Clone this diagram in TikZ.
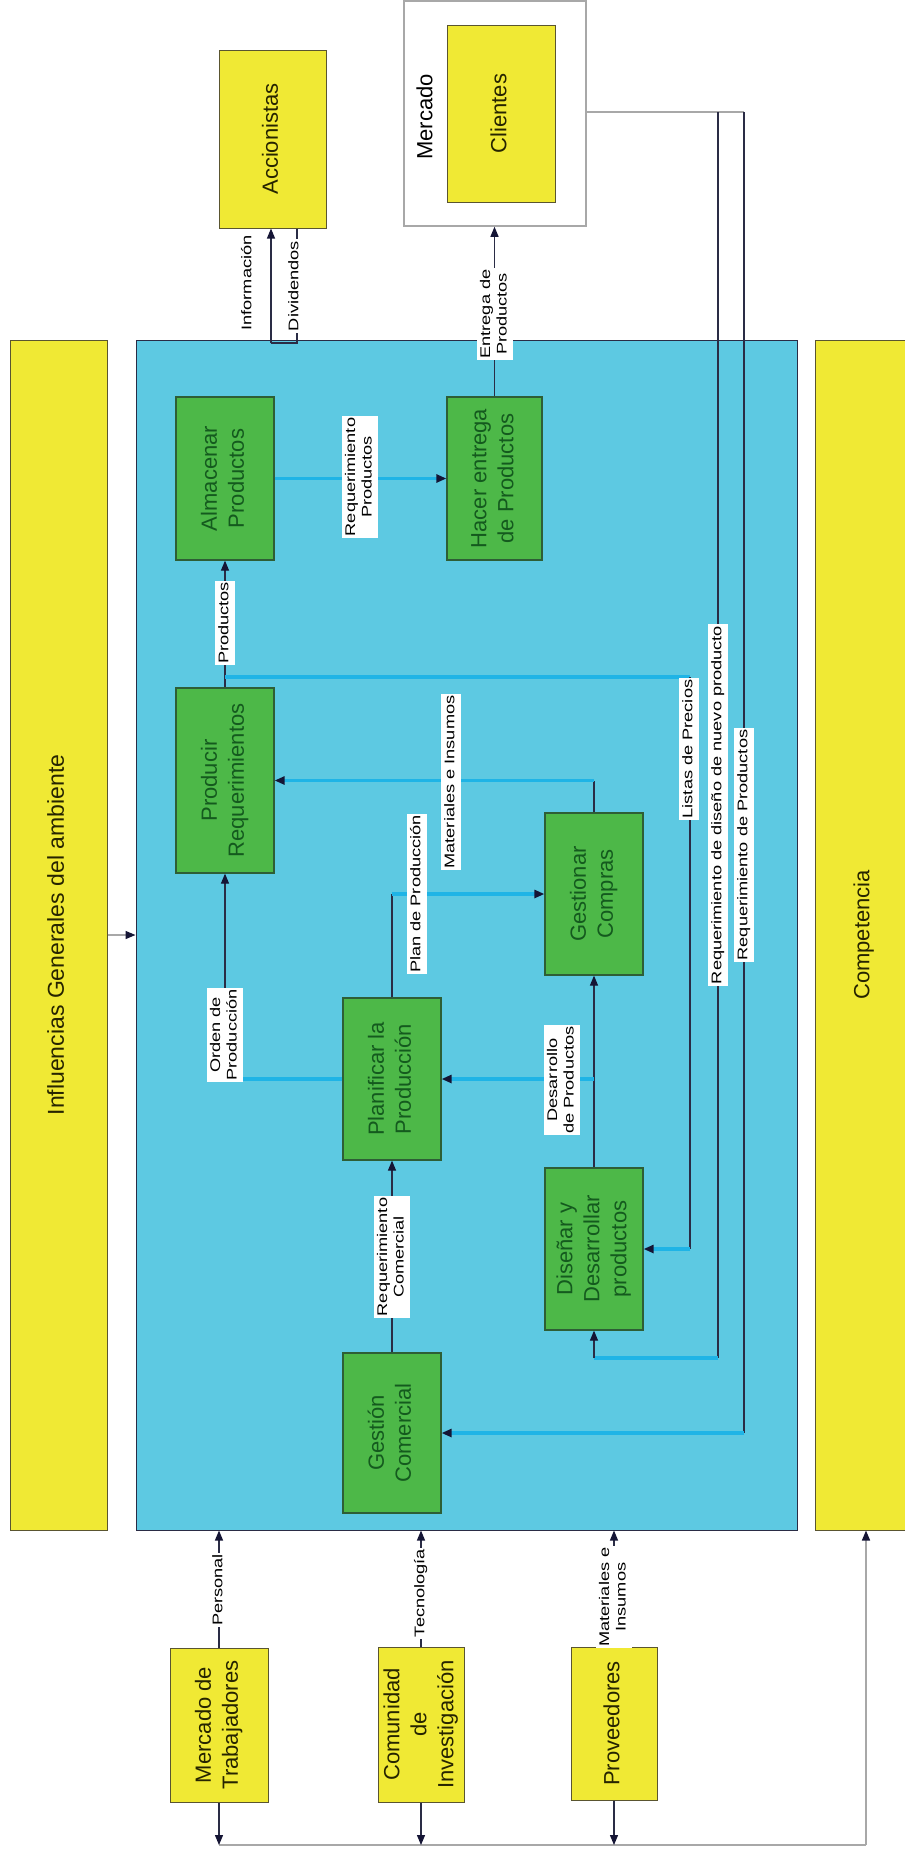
\documentclass[tikz,border=0pt]{standalone}
\usepackage{fontspec}
\setmainfont{Liberation Sans}
\usetikzlibrary{arrows.meta}
\definecolor{panelblue}{HTML}{5DC9E2}
\definecolor{gfill}{HTML}{4DB848}
\definecolor{gline}{HTML}{2E5E36}
\definecolor{gtext}{HTML}{145A1E}
\definecolor{yfill}{HTML}{F0E934}
\definecolor{yline}{HTML}{5A5530}
\definecolor{ytext}{HTML}{262400}
\definecolor{cline}{HTML}{1FB4E6}
\definecolor{dline}{HTML}{2A2C45}
\definecolor{grayline}{HTML}{A8A8A8}
\definecolor{tipc}{HTML}{151535}
\newcommand{\vtext}[1]{\rotatebox{90}{\begin{tabular}{@{}c@{}}#1\end{tabular}}}
\newcommand{\vlbl}[1]{\rotatebox{90}{\scalebox{1.3}[1]{\begin{tabular}{@{}c@{}}#1\end{tabular}}}}
\tikzset{
  gbox/.style={rectangle, draw=gline, fill=gfill, line width=1.2pt, inner sep=0pt, text=gtext, font=\fontsize{22}{27}\selectfont},
  ybox/.style={rectangle, draw=yline, fill=yfill, line width=1pt, inner sep=0pt, text=ytext, font=\fontsize{22}{27}\selectfont},
  lbl/.style={fill=white, inner sep=1.5pt, text=black, font=\fontsize{14}{16.5}\selectfont},
  plainlbl/.style={inner sep=1.5pt, text=black, font=\fontsize{14}{16.5}\selectfont},
  dk/.style={draw=dline, line width=1.2pt},
  cy/.style={draw=cline, line width=3.5pt},
  gr/.style={draw=grayline, line width=1.5pt},
  arr/.style={-{Triangle[length=10pt,width=8pt,color=tipc]}}
}
\begin{document}
\begin{tikzpicture}[x=1pt,y=-1pt]
\useasboundingbox (0,0) rectangle (905,1856);
\fill[white] (0,0) rectangle (905,1856);
% top external
\node[ybox, minimum width=107, minimum height=178] (acc) at (272.5,139) {\vtext{Accionistas}};
\node[draw=grayline, line width=1.5pt, fill=white, minimum width=182, minimum height=225, inner sep=0pt] (merc) at (495,113.5) {};
\node[ybox, minimum width=108, minimum height=177] (cli) at (501,113.5) {\vtext{Clientes}};
\node[text=black, font=\fontsize{22}{27}\selectfont, fill=white, inner sep=1pt] (mercl) at (427,117) {\vtext{Mercado}};
% bars and panel
\node[ybox, minimum width=97, minimum height=1190, font=\fontsize{23}{27}\selectfont] (inf) at (58.5,935) {\vtext{Influencias Generales del ambiente}};
\node[draw=dline, line width=1pt, fill=panelblue, minimum width=661, minimum height=1190, inner sep=0pt] (panel) at (466.5,935) {};
\node[ybox, minimum width=98, minimum height=1190] (comp) at (864,935) {\vtext{Competencia}};
% process boxes
\node[gbox, minimum width=98, minimum height=163] (alm) at (225,478.5) {\vtext{Almacenar\\Productos}};
\node[gbox, minimum width=95, minimum height=163] (hac) at (494.5,478.5) {\vtext{Hacer entrega\\de Productos}};
\node[gbox, minimum width=98, minimum height=185] (prod) at (225,780.5) {\vtext{Producir\\Requerimientos}};
\node[gbox, minimum width=98, minimum height=162] (gc) at (594,894) {\vtext{Gestionar\\Compras}};
\node[gbox, minimum width=98, minimum height=162] (plan) at (392,1079) {\vtext{Planificar la\\Producción}};
\node[gbox, minimum width=98, minimum height=162] (dis) at (594,1249) {\vtext{Diseñar y\\Desarrollar\\productos}};
\node[gbox, minimum width=98, minimum height=160] (ges) at (392,1433) {\vtext{Gestión\\Comercial}};
% bottom external
\node[ybox, minimum width=98, minimum height=154] (mt) at (219,1725) {\vtext{Mercado de\\Trabajadores}};
\node[ybox, minimum width=86, minimum height=155] (com) at (421,1724.5) {\vtext{Comunidad\\de\\Investigación}};
\node[ybox, minimum width=86, minimum height=153] (prov) at (614,1723.5) {\vtext{Proveedores}};
% coordinates
\coordinate (infoB) at (271,343);
\coordinate (divB) at (297,343);
\coordinate (lpA) at (225,677);
\coordinate (lpB) at (690,677);
\coordinate (lpC) at (690,1249);
\coordinate (rdA) at (718,112);
\coordinate (rdB) at (718,1358);
\coordinate (rdC) at (594,1358);
\coordinate (rpA) at (744,112);
\coordinate (rpB) at (744,1433);
\coordinate (miA) at (594,780.5);
\coordinate (ppA) at (392,894);
\coordinate (opA) at (225,1079);
\coordinate (dpA) at (594,1079);
\coordinate (bL) at (219,1845);
\coordinate (bR) at (866,1845);
% top connectors
\draw[dk, arr] (infoB) -- (infoB |- acc.south);
\draw[dk] (infoB) -- (divB) -- (divB |- acc.south);
\draw[dk, arr] (hac.north) -- (hac.north |- merc.south);
\draw[gr] (merc.east |- rpA) -- (rpA);
% internal connectors
\draw[cy, arr] (alm.east) -- (hac.west);
\draw[dk, arr] (prod.north) -- (alm.south);
\draw[cy] (lpA) -- (lpB);
\draw[dk] (lpB) -- (lpC);
\draw[cy, arr] (lpC) -- (dis.east);
\draw[dk] (rdA) -- (rdB);
\draw[cy] (rdB) -- (rdC);
\draw[dk, arr] (rdC) -- (dis.south);
\draw[dk] (rpA) -- (rpB);
\draw[cy, arr] (rpB) -- (ges.east);
\draw[dk] (gc.north) -- (miA);
\draw[cy, arr] (miA) -- (prod.east);
\draw[dk] (plan.north) -- (ppA);
\draw[cy, arr] (ppA) -- (gc.west);
\draw[cy] (plan.west) -- (opA);
\draw[dk, arr] (opA) -- (prod.south);
\draw[dk, arr] (dis.north) -- (gc.south);
\draw[cy, arr] (dpA) -- (plan.east);
\draw[dk, arr] (ges.north) -- (plan.south);
\draw[gr, arr] (inf.east) -- (panel.west);
% bottom connectors
\draw[dk, arr] (mt.north) -- (mt.north |- panel.south);
\draw[dk, arr] (com.north) -- (com.north |- panel.south);
\draw[dk, arr] (prov.north) -- (prov.north |- panel.south);
\draw[gr] (bL) -- (bR);
\draw[gr, arr] (bR) -- (bR |- comp.south);
\draw[dk, arr] (mt.south) -- (bL);
\draw[dk, arr] (com.south) -- (com.south |- bL);
\draw[dk, arr] (prov.south) -- (prov.south |- bL);
% labels
\node[plainlbl] (linfo) at (248,283) {\vlbl{Información}};
\node[lbl] (ldiv) at (295,286) {\vlbl{Dividendos}};
\node[lbl] (lent) at (495,314) {\vlbl{Entrega de\\Productos}};
\node[lbl] (lreqp) at (360,477) {\vlbl{Requerimiento\\Productos}};
\node[lbl] (lprod) at (225,623) {\vlbl{Productos}};
\node[lbl] (llis) at (689,749) {\vlbl{Listas de Precios}};
\node[lbl] (lrd) at (718,805) {\vlbl{Requerimiento de diseño de nuevo producto}};
\node[lbl] (lrp) at (744,845) {\vlbl{Requerimiento de Productos}};
\node[lbl] (lmat) at (451,782) {\vlbl{Materiales e Insumos}};
\node[lbl] (lplan) at (417,894) {\vlbl{Plan de Producción}};
\node[lbl] (lord) at (225,1035) {\vlbl{Orden de\\Producción}};
\node[lbl] (ldes) at (562,1080) {\vlbl{Desarrollo\\de Productos}};
\node[lbl] (lrc) at (392,1257) {\vlbl{Requerimiento\\Comercial}};
\node[lbl] (lper) at (219,1590) {\vlbl{Personal}};
\node[lbl] (ltec) at (421,1593) {\vlbl{Tecnología}};
\node[lbl] (lmi) at (614,1597) {\vlbl{Materiales e\\Insumos}};
\end{tikzpicture}
\end{document}
